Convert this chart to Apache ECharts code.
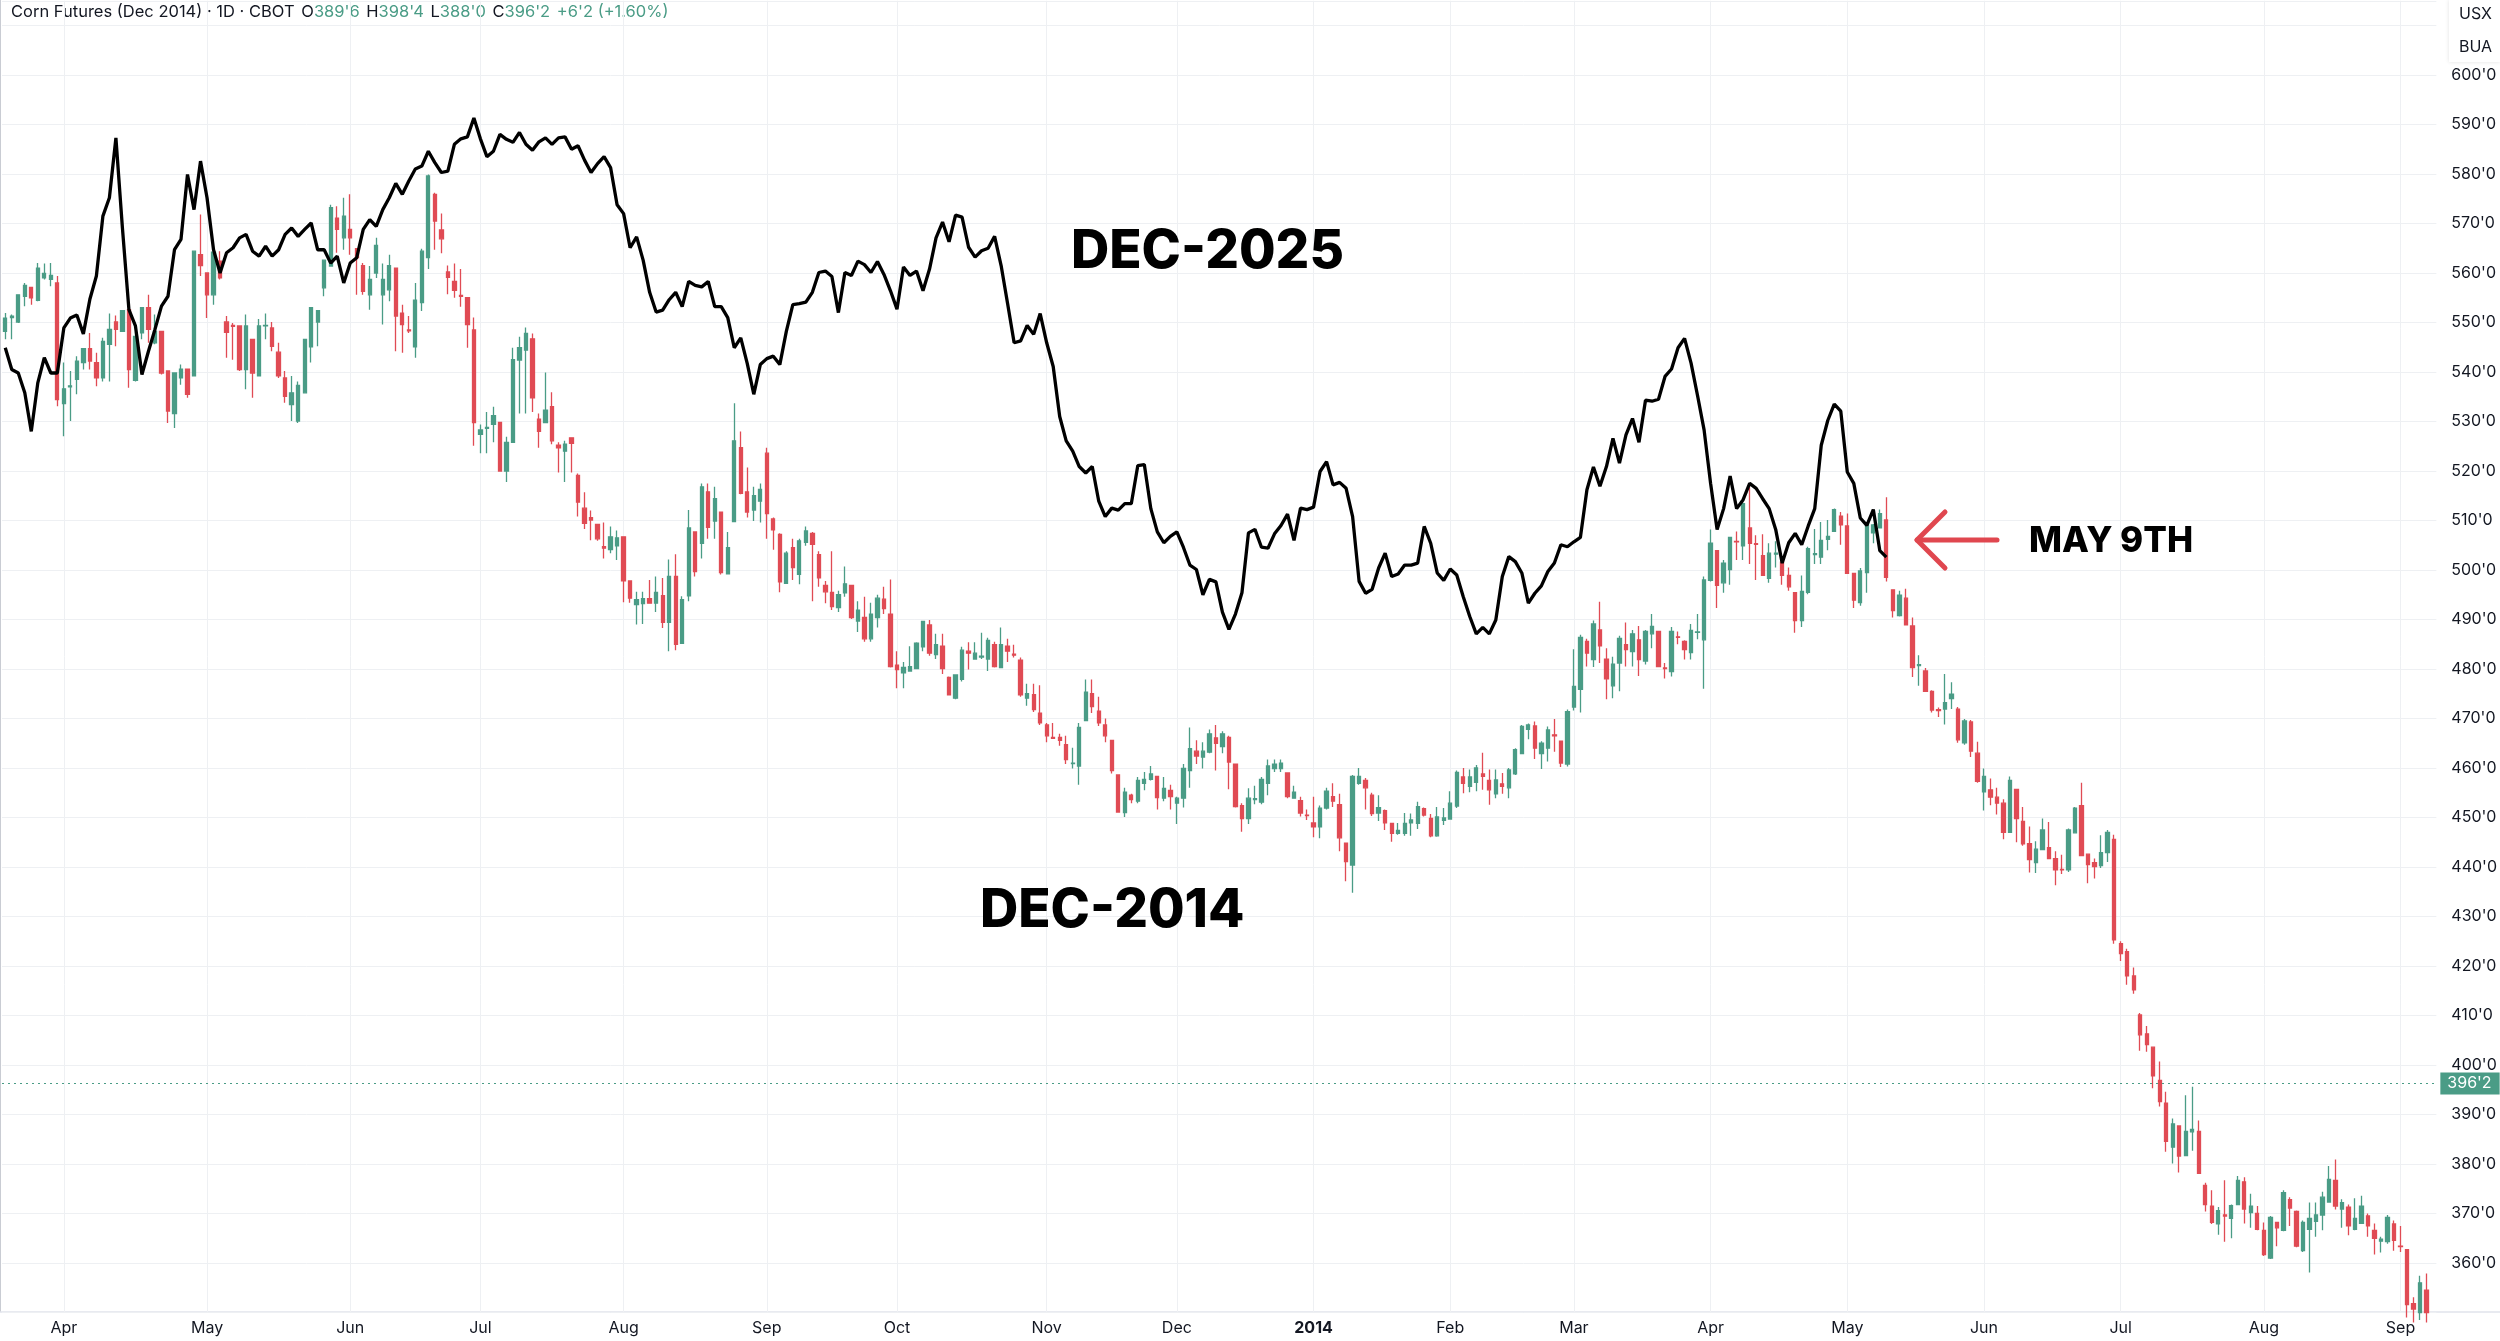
<!DOCTYPE html>
<html>
<head>
<meta charset="utf-8"/>
<title>Corn Futures (Dec 2014) vs Dec 2025</title>
<script src="https://cdn.jsdelivr.net/npm/echarts@6/dist/echarts.min.js"></script>
<style>
  html, body { margin: 0; padding: 0; background: #ffffff; }
  #chart { width: 2500px; height: 1341px; }
</style>
</head>
<body>
<div id="chart"></div>
<script type="text/javascript">
// trading calendar of the Dec 2014 contract (CBOT holidays skipped)
const firstDay = '2013-03-18';
const lastDay = '2014-09-08';
const holidays = ['2013-03-29', '2013-05-27', '2013-07-04', '2013-09-02', '2013-11-28', '2013-12-25',
  '2014-01-01', '2014-01-20', '2014-02-17', '2014-04-18', '2014-05-26', '2014-07-04', '2014-09-01'];
const monthNames = ['Jan', 'Feb', 'Mar', 'Apr', 'May', 'Jun', 'Jul', 'Aug', 'Sep', 'Oct', 'Nov', 'Dec'];

// Dec 2014 corn, daily [open, high, low, close] in cents
const dec2014 = [
  [548.2,551.9,546.6,550.9],[551.0,551.6,546.6,551.3],[550.1,555.6,549.9,555.6],[555.3,558.0,553.3,557.5],[557.1,557.1,553.6,555.0],
  [554.5,562.0,554.3,561.0],[559.0,561.9,558.7,559.9],[558.7,562.0,557.3,559.5],[558.0,559.4,533.1,534.4],[533.6,541.9,527.0,536.6],
  [537.0,540.2,530.1,537.2],[538.5,543.2,535.5,542.2],[541.9,544.7,540.5,544.7],[544.7,547.9,540.5,542.2],[541.9,543.9,537.1,538.8],
  [538.8,546.9,538.1,546.2],[545.6,551.8,538.1,548.6],[550.1,551.4,545.2,548.6],[548.2,552.4,548.2,552.4],[552.6,552.6,536.8,540.5],
  [538.3,548.2,538.1,547.2],[547.9,553.0,546.6,553.0],[553.0,555.6,545.9,548.6],[545.9,551.6,545.6,548.2],[548.2,548.2,539.5,539.8],
  [540.2,540.2,529.7,532.1],[531.6,539.8,528.7,539.8],[538.8,541.5,537.4,540.6],[540.6,540.6,534.8,535.5],[539.2,564.4,539.2,564.4],
  [563.7,571.8,559.4,561.5],[560.0,560.0,550.9,555.6],[555.6,564.4,553.6,564.2],[562.4,564.4,558.7,559.0],[550.1,551.3,542.9,548.0],
  [549.4,549.9,542.5,549.2],[549.3,549.3,540.2,540.5],[540.5,551.6,536.5,549.3],[546.6,546.6,534.8,539.8],[539.2,550.7,539.2,549.3],
  [549.3,551.8,546.6,549.4],[548.9,550.1,544.2,545.2],[544.0,545.9,538.8,539.2],[538.8,540.2,533.8,535.1],[533.4,539.2,530.1,535.8],
  [530.1,538.1,529.7,537.3],[535.8,546.7,535.8,546.6],[545.1,553.0,541.9,553.0],[550.1,552.4,545.2,552.4],[557.0,562.6,555.3,562.6],
  [561.4,573.8,561.4,573.2],[571.1,573.5,564.1,568.8],[567.1,575.2,564.7,571.5],[568.8,575.9,563.7,567.1],[564.9,564.9,555.6,563.1],
  [561.5,562.0,555.6,556.3],[555.6,561.4,552.6,558.7],[560.0,567.1,559.0,565.6],[555.6,561.9,549.6,558.7],[556.6,563.7,554.3,561.5],
  [561.0,561.0,544.2,551.3],[551.9,553.6,543.9,549.6],[548.5,551.3,547.9,548.3],[545.1,558.0,542.9,554.5],[554.0,564.9,552.3,564.4],
  [563.1,579.9,560.8,579.6],[575.9,576.2,564.7,570.5],[568.7,572.0,564.0,566.9],[560.2,561.5,555.7,559.1],[558.3,561.9,555.0,556.5],
  [555.5,560.8,553.2,555.3],[555.0,555.0,544.9,549.6],[548.5,551.0,525.1,529.8],[527.4,529.4,523.6,528.3],[528.6,531.9,523.6,528.8],
  [529.4,533.0,525.8,531.2],[529.8,529.8,520.0,520.0],[520.0,526.9,517.8,525.8],[525.8,544.9,525.8,542.5],[542.4,547.1,531.6,544.9],
  [544.4,549.0,531.6,547.8],[546.7,547.8,531.9,534.8],[530.5,531.6,524.7,528.0],[529.8,539.9,529.8,532.3],[533.0,535.9,525.4,526.1],
  [525.2,525.8,519.7,524.7],[524.0,526.1,517.8,525.4],[526.7,526.7,519.7,525.6],[519.1,519.5,510.8,513.7],[512.5,515.7,508.3,509.4],
  [510.6,512.0,506.0,510.1],[509.2,509.2,505.9,506.3],[504.7,509.6,502.3,504.4],[504.1,508.8,503.4,506.7],[504.9,508.0,502.0,506.5],
  [506.7,506.7,493.5,497.8],[497.8,497.8,493.4,494.3],[493.0,495.6,489.0,494.0],[493.2,495.6,489.1,494.2],[494.2,498.0,493.3,493.3],
  [493.3,498.7,491.5,495.5],[494.8,498.4,488.3,489.4],[489.4,502.1,483.6,498.7],[498.7,503.2,483.8,485.0],[485.2,494.7,485.2,494.0],
  [494.8,512.1,493.7,508.5],[507.7,507.7,498.7,499.7],[505.4,517.5,502.3,516.8],[515.8,517.5,506.3,508.6],[509.9,516.8,506.3,514.4],
  [511.7,511.7,499.1,499.5],[499.2,507.7,499.1,504.5],[509.8,533.7,509.8,526.1],[524.7,528.0,515.3,515.5],[515.8,520.7,510.6,511.7],
  [512.1,516.8,509.9,515.0],[513.9,517.5,509.6,516.3],[523.6,524.7,506.3,511.4],[510.3,510.6,504.1,508.1],[507.2,507.4,495.5,497.6],
  [497.3,503.8,497.3,503.4],[504.5,506.3,498.0,500.5],[499.1,506.3,497.1,505.9],[505.6,508.8,504.9,507.9],[507.4,507.7,493.7,505.2],
  [503.1,503.8,496.6,498.4],[496.9,497.8,493.3,495.6],[495.5,503.8,491.9,492.6],[492.4,495.8,491.5,495.0],[495.4,500.7,494.6,497.2],
  [496.9,496.9,490.1,490.4],[489.7,493.7,487.5,491.9],[490.4,494.6,485.5,486.1],[486.1,493.4,485.5,491.1],[490.4,495.0,488.4,494.3],
  [494.1,496.6,491.1,492.2],[491.1,498.1,480.3,480.5],[480.8,483.6,476.1,479.9],[479.2,481.4,476.1,480.3],[479.6,484.6,479.6,480.5],
  [480.1,485.4,480.1,485.2],[484.5,489.7,483.6,489.6],[488.9,489.9,482.7,483.2],[482.9,487.1,482.0,484.9],[484.6,487.1,479.0,480.1],
  [478.3,478.5,474.8,474.8],[474.1,478.8,473.9,478.8],[477.9,484.5,477.5,483.8],[483.6,485.4,479.9,483.2],[482.0,485.4,482.0,483.2],
  [482.4,487.3,482.0,482.6],[482.0,486.3,479.6,485.8],[484.9,485.5,480.3,480.5],[480.3,488.4,480.3,484.9],[484.6,486.1,481.4,483.6],
  [483.0,484.9,482.3,482.8],[481.8,482.3,474.4,474.8],[474.1,477.0,472.6,475.0],[474.8,477.0,471.3,471.8],[471.1,476.7,468.7,469.1],
  [468.7,469.1,465.2,466.5],[466.2,469.1,466.0,466.0],[466.2,466.9,464.5,465.6],[464.7,466.5,460.8,461.7],[460.9,464.1,459.9,461.0],
  [460.4,469.1,456.6,468.2],[469.6,477.9,469.6,475.3],[475.0,477.9,471.1,472.4],[471.5,474.4,468.5,469.1],[468.7,470.0,465.2,466.5],
  [465.6,465.6,458.9,459.5],[458.6,458.6,451.0,451.1],[451.0,456.0,450.1,455.1],[454.5,454.8,452.9,453.6],[453.3,458.2,452.9,457.5],
  [456.9,459.2,455.5,457.7],[457.7,460.4,457.5,458.8],[458.3,458.3,451.6,454.0],[453.9,458.2,453.3,455.9],[455.5,456.6,451.6,454.2],
  [452.9,454.2,448.7,453.9],[453.9,460.8,452.0,459.9],[459.5,468.2,456.0,463.9],[463.4,465.6,460.8,462.4],[462.2,465.2,459.9,463.4],
  [463.2,467.8,463.0,466.9],[466.1,468.7,459.5,465.0],[464.3,467.4,463.0,466.9],[466.2,466.5,455.7,461.2],[460.8,460.8,452.0,452.2],
  [452.4,452.9,447.1,449.8],[449.8,455.9,448.7,453.9],[453.6,456.4,452.7,453.8],[453.1,458.2,452.7,457.7],[456.9,461.7,454.5,460.4],
  [459.9,461.7,459.2,460.8],[459.9,461.7,459.2,461.0],[459.0,459.0,453.9,454.2],[453.9,456.4,453.9,455.1],[453.4,454.2,450.2,450.9],
  [450.5,451.6,449.5,450.4],[448.9,454.2,446.0,448.1],[448.1,452.4,445.8,451.9],[451.9,456.0,451.6,455.3],[454.2,456.9,452.1,453.3],
  [452.6,454.8,443.2,445.9],[444.8,444.9,437.1,441.1],[440.4,458.6,434.8,458.3],[456.9,460.0,456.6,458.3],[457.5,458.0,451.6,456.0],
  [454.5,455.0,450.3,450.8],[450.9,454.5,449.3,452.0],[451.4,451.6,447.5,448.9],[448.8,448.9,445.1,446.8],[446.8,448.9,446.5,447.4],
  [446.8,450.9,446.3,448.8],[448.9,450.8,446.3,449.5],[448.8,453.2,447.7,452.2],[451.8,452.0,450.2,450.5],[449.8,450.7,446.0,446.3],
  [446.3,452.1,446.1,450.1],[449.4,451.9,448.5,449.9],[449.7,455.3,449.7,452.9],[452.3,459.5,451.9,459.1],[458.2,460.0,454.9,456.9],
  [456.3,459.7,455.1,458.2],[457.1,460.6,455.3,460.0],[458.8,463.1,455.6,458.3],[457.5,459.7,452.6,455.6],[454.8,459.7,453.9,457.6],
  [456.8,459.0,454.8,456.3],[456.0,460.0,453.9,459.6],[458.8,464.0,458.6,463.7],[462.9,468.7,462.9,468.4],[467.8,469.0,465.8,468.7],
  [468.5,469.4,461.8,464.0],[462.9,465.4,459.8,465.0],[464.0,468.4,461.3,467.7],[466.7,469.9,463.3,466.5],[465.4,465.4,460.2,461.0],
  [460.8,471.8,460.3,471.4],[472.3,484.0,471.6,476.5],[475.9,486.9,471.2,486.4],[485.6,486.1,480.5,483.2],[481.9,489.8,480.4,489.1],
  [487.9,493.6,481.2,484.7],[482.0,484.2,473.9,478.0],[476.6,482.5,474.1,481.0],[481.2,486.7,475.5,486.2],[484.9,489.4,480.5,483.9],
  [483.5,487.9,480.5,487.1],[485.9,488.7,478.6,481.9],[481.6,487.9,480.9,487.6],[487.1,491.1,484.2,488.6],[487.6,487.6,480.5,480.5],
  [480.2,481.2,478.1,480.1],[479.5,488.5,478.5,487.6],[486.5,487.6,485.0,486.4],[485.6,485.8,481.9,483.9],[483.3,489.1,481.9,487.8],
  [487.4,491.1,486.0,487.5],[485.9,498.7,476.0,498.0],[497.9,508.2,497.7,505.4],[503.9,503.9,492.3,496.9],[497.4,502.0,495.4,501.4],
  [500.1,506.6,497.0,506.6],[505.8,507.8,502.0,505.7],[504.9,514.0,502.0,513.4],[508.5,516.7,501.2,505.4],[505.3,507.0,498.0,505.2],
  [502.9,507.2,498.9,498.9],[498.3,505.4,497.4,503.4],[503.2,505.8,500.5,503.4],[501.6,502.8,497.0,498.9],[498.9,500.5,495.8,496.6],
  [495.4,495.4,487.3,489.8],[489.8,498.9,488.5,495.7],[495.5,504.7,495.1,504.3],[503.1,508.3,501.2,503.3],[502.6,509.7,501.2,506.0],
  [506.2,510.1,504.0,506.8],[507.8,512.4,507.8,512.2],[510.9,511.7,505.1,509.1],[508.9,511.4,499.3,499.3],[499.3,499.3,492.3,493.9],
  [493.4,500.4,492.8,499.8],[499.5,509.7,495.4,509.3],[507.5,509.3,505.4,509.1],[508.5,512.2,508.5,511.4],[510.1,514.7,497.7,498.5],
  [496.0,496.1,490.4,491.8],[490.8,495.8,490.6,494.9],[494.3,496.2,488.9,488.9],[488.7,490.4,478.4,480.3],[480.7,482.8,476.6,480.9],
  [479.6,480.2,475.5,475.5],[475.5,475.7,471.2,471.7],[471.8,472.2,470.3,471.6],[471.9,479.0,468.8,473.2],[474.0,477.3,471.9,474.9],
  [471.9,472.3,465.1,465.7],[465.1,469.9,464.7,469.5],[469.3,469.7,462.2,463.4],[463.0,465.3,457.0,457.3],[455.2,459.9,451.4,458.3],
  [455.6,457.9,452.5,454.1],[454.1,456.0,450.6,452.9],[452.9,453.7,445.6,447.0],[447.0,458.3,447.0,457.5],[455.7,455.7,445.0,449.8],
  [449.2,452.1,444.3,444.7],[444.7,448.2,438.9,441.5],[440.9,445.2,438.8,443.6],[443.5,449.8,443.5,447.5],[443.9,449.1,441.7,441.7],
  [441.7,443.2,436.3,439.4],[439.5,442.5,438.6,439.4],[439.4,447.8,439.0,447.5],[446.9,452.1,446.9,451.9],[452.4,457.0,442.3,442.3],
  [442.6,442.6,436.7,440.5],[440.9,441.7,437.7,440.1],[440.3,446.4,439.8,442.9],[442.9,447.5,441.0,447.0],[445.6,446.5,424.5,425.3],
  [424.5,425.0,421.0,422.5],[422.9,423.5,416.2,418.0],[418.0,419.7,414.4,415.2],[410.1,410.5,402.9,406.1],[406.3,407.9,402.7,404.1],
  [403.6,403.6,395.3,397.8],[396.9,400.7,391.6,392.6],[392.3,394.6,382.5,384.6],[383.4,389.2,380.1,388.1],[387.7,387.7,378.3,381.6],
  [381.7,393.9,381.6,386.6],[386.5,395.6,382.7,387.0],[386.6,388.8,378.0,378.1],[375.7,376.2,370.4,371.8],[371.5,374.7,367.9,368.2],
  [367.9,371.3,365.7,370.6],[369.7,376.7,364.3,369.5],[369.0,371.8,365.0,371.6],[371.8,377.6,371.8,376.7],[376.4,377.3,368.0,370.9],
  [370.2,374.0,367.1,371.5],[370.0,371.5,366.6,366.8],[366.6,368.2,361.4,361.7],[361.0,369.5,360.8,369.2],[368.2,368.2,363.4,367.1],
  [366.6,374.7,366.4,374.2],[372.8,373.3,367.5,371.1],[370.4,370.6,363.2,363.4],[362.5,368.6,362.2,368.2],[366.8,372.2,358.1,369.0],
  [368.4,372.2,365.3,369.7],[369.7,374.4,366.6,373.3],[372.3,379.6,372.2,376.9],[376.7,380.9,370.8,371.5],[370.9,372.9,367.1,372.2],
  [371.3,371.8,365.6,367.5],[366.8,373.1,366.6,369.0],[368.0,373.6,367.9,371.5],[369.5,370.0,365.3,367.5],[366.6,368.0,361.7,365.0],
  [364.4,365.3,362.1,364.8],[364.3,369.7,363.9,369.2],[367.9,368.6,362.5,364.6],[363.4,367.5,362.2,363.3],[362.7,362.7,349.0,351.6],
  [351.8,353.1,348.0,350.7],[350.0,357.4,348.5,356.0],[354.5,357.9,348.0,350.0]
];

// Dec 2025 corn, daily close, laid over the same calendar up to May 9th
const dec2025 = [
  544.9,540.5,539.8,535.8,528.0,537.8,542.9,539.8,539.8,548.9,
  550.9,551.5,547.7,554.7,559.4,571.5,575.2,587.3,569.1,552.6,
  549.3,539.5,544.2,548.6,553.3,555.3,564.7,566.8,579.9,572.8,
  582.6,575.2,564.7,560.0,564.1,565.1,567.1,567.8,564.4,563.4,
  565.4,563.4,564.7,567.8,569.1,567.4,568.8,570.1,564.7,564.7,
  562.0,563.4,558.0,562.0,563.1,568.8,570.8,569.4,572.8,575.2,
  578.1,575.9,578.6,581.0,581.6,584.6,582.3,580.3,580.6,586.0,
  587.1,587.5,591.3,587.1,583.5,584.6,588.0,587.0,586.4,588.4,
  586.0,584.8,586.5,587.3,586.0,587.3,587.5,585.0,585.7,582.8,
  580.3,582.1,583.5,581.3,573.8,572.0,565.1,567.3,562.6,556.1,
  552.1,552.5,554.6,556.1,553.2,558.3,557.5,557.2,558.3,553.2,
  553.2,551.0,544.9,546.9,541.7,535.5,541.5,542.7,543.2,541.5,
  548.2,553.6,553.8,554.1,556.1,560.1,560.4,559.3,552.0,560.1,
  559.5,562.4,561.7,560.1,562.3,559.7,556.4,552.7,561.2,559.5,
  560.4,556.4,560.8,567.1,570.3,566.3,571.7,571.3,565.2,563.2,
  564.5,565.0,567.4,561.5,553.8,545.9,546.3,549.4,547.6,551.8,
  545.9,541.1,531.0,526.1,524.0,520.9,519.6,520.9,513.9,510.8,
  512.5,512.1,513.4,513.4,521.1,521.3,512.4,507.7,505.5,506.8,
  507.7,504.6,501.0,500.1,495.0,498.1,497.6,491.5,488.0,491.1,
  495.4,507.5,508.2,504.6,504.4,507.3,509.0,511.3,506.0,512.5,
  512.2,512.7,519.9,521.9,517.2,517.7,516.5,510.8,497.7,495.3,
  496.1,500.4,503.4,498.7,499.2,501.0,501.0,501.4,508.8,505.4,
  499.4,497.9,500.2,499.0,494.6,490.6,487.1,488.4,487.1,489.9,
  498.7,502.7,501.7,499.4,493.3,495.3,496.8,499.7,501.4,505.1,
  504.7,505.7,506.6,516.2,520.8,516.9,520.9,526.6,521.6,527.3,
  530.6,525.8,534.3,534.1,534.5,539.1,540.6,544.9,546.8,541.8,
  535.2,528.3,517.5,508.2,512.4,519.0,512.4,514.2,517.5,516.5,
  514.4,512.4,508.2,501.4,505.5,507.4,505.1,508.9,512.4,525.2,
  530.2,533.5,532.1,519.8,517.5,510.5,509.0,512.2,503.9,502.6
];

const lastPrice = 396.25;
const lastPriceText = "396'2";
const yMin = 350;
const yMax = 615;
const yStep = 10;

const upColor = '#4a9c86';
const downColor = '#e04b54';
const gridColor = '#eef0f3';
const textColor = '#131722';
const uiFont = 'Inter, "Noto Sans", sans-serif';

function tradingDays(from, to, skip) {
  const out = [];
  const d = new Date(from + 'T00:00:00Z');
  const end = new Date(to + 'T00:00:00Z');
  while (d <= end) {
    const iso = d.toISOString().slice(0, 10);
    const wd = d.getUTCDay();
    if (wd !== 0 && wd !== 6 && skip.indexOf(iso) < 0) {
      out.push(iso);
    }
    d.setUTCDate(d.getUTCDate() + 1);
  }
  return out;
}

const days = tradingDays(firstDay, lastDay, holidays);
// one empty slot after the last bar, like the right margin on the screen
const categories = days.concat(['']);
const monthStart = categories.map((d, i) => i > 0 && d !== '' && d.slice(0, 7) !== categories[i - 1].slice(0, 7));

function monthLabel(value) {
  const m = Number(value.slice(5, 7)) - 1;
  return m === 0 ? '{y|' + value.slice(0, 4) + '}' : monthNames[m];
}

const candleData = dec2014.map((r) => [r[0], r[3], r[2], r[1]]);

const chart = echarts.init(document.getElementById('chart'), null, {renderer: 'canvas'});

chart.setOption({
  animation: false,
  backgroundColor: '#ffffff',
  grid: {
    left: 2,
    right: 56.6,
    top: 0.75,
    bottom: 28.5,
    containLabel: false
  },
  xAxis: {
    type: 'category',
    data: categories,
    boundaryGap: true,
    axisLine: {show: false},
    axisTick: {show: false},
    axisLabel: {
      interval: (idx) => monthStart[idx],
      formatter: (value) => monthLabel(value),
      color: textColor,
      fontFamily: uiFont,
      fontSize: 16,
      margin: 8,
      rich: {
        y: {fontFamily: uiFont, fontSize: 16, fontWeight: 'bold', color: textColor}
      }
    },
    splitLine: {
      show: true,
      alignWithLabel: true,
      interval: (idx) => monthStart[idx],
      lineStyle: {color: gridColor, width: 1}
    }
  },
  yAxis: {
    type: 'value',
    position: 'right',
    min: yMin,
    max: yMax,
    interval: yStep,
    axisLine: {show: false},
    axisTick: {show: false},
    axisLabel: {
      margin: 15,
      color: textColor,
      fontFamily: uiFont,
      fontSize: 16,
      formatter: (v) => (v >= 360 && v <= 600) ? v + "'0" : ''
    },
    splitLine: {lineStyle: {color: gridColor, width: 1}}
  },
  series: [
    {
      name: 'Dec 2014',
      type: 'candlestick',
      data: candleData,
      barWidth: 3.8,
      itemStyle: {
        color: upColor,
        color0: downColor,
        borderColor: upColor,
        borderColor0: downColor,
        borderWidth: 1.3
      },
      markLine: {
        silent: true,
        symbol: ['none', 'none'],
        data: [{yAxis: lastPrice}],
        lineStyle: {color: upColor, type: [2, 4], width: 1.2},
        label: {
          show: true,
          position: 'end',
          distance: 4,
          formatter: lastPriceText,
          color: '#ffffff',
          backgroundColor: upColor,
          fontFamily: uiFont,
          fontSize: 16,
          padding: [3, 8, 3, 7]
        }
      },
      z: 2
    },
    {
      name: 'Dec 2025',
      type: 'line',
      data: dec2025,
      showSymbol: false,
      symbol: 'none',
      lineStyle: {color: '#000000', width: 3.3},
      z: 5
    }
  ],
  graphic: [
    // left border and the line over the time scale
    {type: 'line', shape: {x1: 0.5, y1: 0, x2: 0.5, y2: 1312}, style: {stroke: '#c9ccd3', lineWidth: 1}},
    {type: 'line', shape: {x1: 0, y1: 1312, x2: 2500, y2: 1312}, style: {stroke: '#e0e3eb', lineWidth: 1.5}},
    // legend line
    {
      type: 'text',
      left: 11,
      top: 4,
      style: {
        text: "{t|Corn Futures (Dec 2014) · 1D · CBOT}  {t|O}{v|389'6}  {t|H}{v|398'4}  {t|L}{v|388'0}  {t|C}{v|396'2}  {v|+6'2 (+1.60%)}",
        rich: {
          t: {fill: textColor, fontFamily: uiFont, fontSize: 16.5},
          v: {fill: upColor, fontFamily: uiFont, fontSize: 16.5}
        }
      }
    },
    // currency / unit box
    {type: 'rect', shape: {x: 2449, y: 0, width: 51, height: 62}, style: {fill: '#ffffff', shadowBlur: 4, shadowColor: 'rgba(0,0,0,0.12)'}},
    {type: 'text', x: 2459, y: 14, style: {text: 'USX', fill: textColor, fontFamily: uiFont, fontSize: 16, verticalAlign: 'middle'}},
    {type: 'text', x: 2459, y: 47, style: {text: 'BUA', fill: textColor, fontFamily: uiFont, fontSize: 16, verticalAlign: 'middle'}},
    // annotations
    {type: 'text', x: 1071, y: 252, z: 10, style: {text: 'DEC-2025', fill: '#000000', fontFamily: 'Inter', fontWeight: 800, fontSize: 53, verticalAlign: 'middle'}},
    {type: 'text', x: 980, y: 911, z: 10, style: {text: 'DEC-2014', fill: '#000000', fontFamily: 'Inter', fontWeight: 800, fontSize: 53, verticalAlign: 'middle'}},
    {type: 'text', x: 2029, y: 541, z: 10, style: {text: 'MAY 9TH', fill: '#000000', fontFamily: 'Inter', fontWeight: 800, fontSize: 35, verticalAlign: 'middle'}},
    {type: 'polyline', z: 10, shape: {points: [[1945, 512], [1917, 540], [1945, 568]]},
      style: {stroke: '#e0474f', lineWidth: 5, fill: null, lineCap: 'round', lineJoin: 'round'}},
    {type: 'line', z: 10, shape: {x1: 1917, y1: 540, x2: 1997, y2: 540},
      style: {stroke: '#e0474f', lineWidth: 5, lineCap: 'round'}}
  ]
});
</script>
</body>
</html>
